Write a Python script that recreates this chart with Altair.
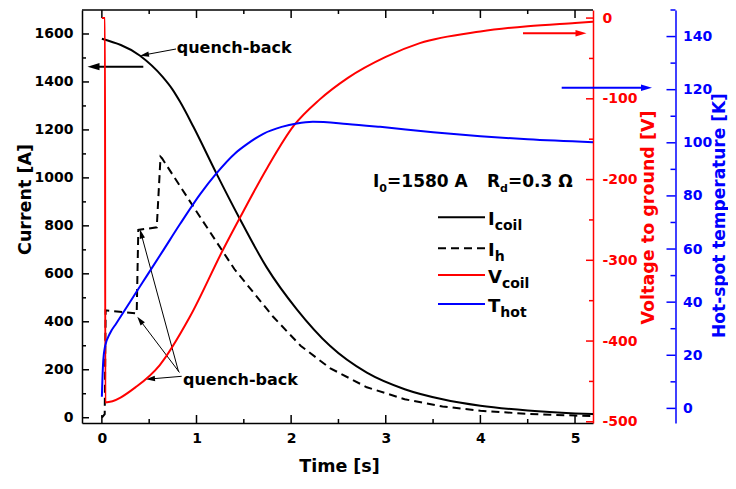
import math
import altair as alt
import pandas as pd

# ---------------- values ----------------
icoil_t = [0.0, 0.40, 0.64, 0.74, 0.825, 0.966, 1.21, 1.45, 1.74, 2.06, 2.41, 2.8, 3.2, 3.6, 4.0, 4.5, 5.0, 5.19]
icoil_a = [1580, 1510, 1422, 1372, 1318, 1214, 1019, 835, 628, 452, 300, 188, 119, 77, 50, 30, 18, 15]

ih_t = [0.0, 0.03, 0.04, 0.368, 0.385, 0.58, 0.62, 0.635, 1.0, 1.4, 1.81, 2.1, 2.41, 2.8, 3.2, 3.6, 4.0, 4.5, 5.0, 5.19]
ih_a = [0, 15, 448, 435, 783, 794, 1088, 1082, 860, 620, 421, 300, 207, 127, 77, 47, 29, 16, 9, 7]

vcoil_t = [0.0, 0.033, 0.036, 0.37, 0.61, 0.93, 1.28, 1.46, 1.75, 2.03, 2.30, 2.6, 3.0, 3.36, 4.0, 4.5, 5.0, 5.19]
vcoil_v = [0, 0, -476, -456, -430, -370, -287, -247, -185, -133, -101, -74, -48, -31, -16.6, -10, -6, -4.5]

thot_t = [0.0, 0.005, 0.015, 0.033, 0.086, 0.15, 0.226, 0.368, 0.473, 0.65, 0.826, 1.037, 1.206,
          1.407, 1.53, 1.706, 1.9, 2.06, 2.23, 2.59, 2.94, 3.5, 4.0, 4.5, 5.19]
thot_k = [4.4, 10, 18.2, 23.2, 28.3, 31.9, 36.1, 44.0, 49.8, 59.6, 69.4, 80.6, 88.3,
          96.0, 99.4, 103.4, 106.0, 107.3, 107.9, 107.1, 106.0, 104.0, 102.5, 101.3, 100.2]

time_ticks = [0, 1, 2, 3, 4, 5]
time_minor = [0.5, 1.5, 2.5, 3.5, 4.5]
current_ticks = [0, 200, 400, 600, 800, 1000, 1200, 1400, 1600]
current_minor = [100, 300, 500, 700, 900, 1100, 1300, 1500]
voltage_ticks = [0, -100, -200, -300, -400, -500]
voltage_minor = [-50, -150, -250, -350, -450]
temp_ticks = [0, 20, 40, 60, 80, 100, 120, 140]
temp_minor = [10, 30, 50, 70, 90, 110, 130, 150]

legend_labels = [("I", "coil"), ("I", "h"), ("V", "coil"), ("T", "hot")]
info_parts = [("I", "0", "=1580 A"), ("R", "d", "=0.3 \u03a9")]
note_text = "quench-back"

# ---------------- layout / style ----------------
W, H = 511, 413
OX, OY = 82, 10          # page position of the plot area (8px margin + padding)
T_DOM = [-0.21, 5.19]
I_DOM = [-22, 1700]
V_DOM = [-501.5, 10]
K_DOM = [-5.5, 150]
BLUE_OFF = 82.5
FONT = "DejaVu Sans"
RED = "#ff0000"
BLUE = "#0000ff"
ARROW = "M0,0L-2,-0.6L-2,0.6Z"


def px_t(x):
    return T_DOM[0] + (x - OX) / W * (T_DOM[1] - T_DOM[0])


def px_i(y):
    return I_DOM[1] - (y - OY) / H * (I_DOM[1] - I_DOM[0])


xs = alt.Scale(domain=T_DOM, nice=False, zero=False)
ys_i = alt.Scale(domain=I_DOM, nice=False, zero=False)
ys_v = alt.Scale(domain=V_DOM, nice=False, zero=False)
ys_k = alt.Scale(domain=K_DOM, nice=False, zero=False)

common_axis = dict(ticks=False, grid=False, labelFont=FONT, labelFontSize=14, labelFontWeight="bold",
                   titleFont=FONT, titleFontWeight="bold", domainWidth=1.5,
                   labelFlush=False, labelOverlap=False, labelExpr="'' + datum.value")

X_AXIS = alt.Axis(values=time_ticks, title="Time [s]", orient="bottom", labelPadding=8,
                  domainColor="black", labelColor="black", titleColor="black", titleFontSize=17.5,
                  titleX=257, titleY=48, titleAlign="center", titleBaseline="alphabetic", **common_axis)
I_AXIS = alt.Axis(values=current_ticks, title="Current [A]", orient="left", labelPadding=9,
                  domainColor="black", labelColor="black", titleColor="black", titleFontSize=17.5,
                  titleX=-57, titleY=189, titleAngle=270, titleAlign="center", titleBaseline="middle",
                  **common_axis)
V_AXIS = alt.Axis(values=voltage_ticks, title="Voltage to ground [V]", orient="right", labelPadding=9,
                  domainColor=RED, labelColor=RED, titleColor=RED, titleFontSize=17.5,
                  titleX=55, titleY=207, titleAngle=270, titleAlign="center", titleBaseline="middle",
                  **common_axis)
K_AXIS = alt.Axis(values=temp_ticks, title="Hot-spot temperature [K]", orient="right", offset=BLUE_OFF,
                  labelPadding=7, domainColor=BLUE, labelColor=BLUE, titleColor=BLUE, titleFontSize=17,
                  titleX=48.5, titleY=205, titleAngle=270, titleAlign="center", titleBaseline="alphabetic",
                  **common_axis)


def X(field):
    return alt.X(f"{field}:Q", scale=xs, axis=X_AXIS)


def YI(field):
    return alt.Y(f"{field}:Q", scale=ys_i, axis=I_AXIS)


def series(t, v):
    return pd.DataFrame({"t": t, "v": v})


def xticks(vals, y1, y2):
    return alt.Chart(pd.DataFrame({"t": vals})).mark_rule(color="black", strokeWidth=1.5).encode(
        x=X("t"), y=alt.value(y1), y2=alt.value(y2))


def yticks(vals, scale, axis, x1, x2, color):
    return alt.Chart(pd.DataFrame({"v": vals})).mark_rule(color=color, strokeWidth=1.5).encode(
        y=alt.Y("v:Q", scale=scale, axis=axis), x=alt.value(x1), x2=alt.value(x2))


# ---------------- current layers ----------------
icoil_line = alt.Chart(series(icoil_t, icoil_a)).mark_line(
    color="black", strokeWidth=2, interpolate="monotone").encode(x=X("t"), y=YI("v"))
ih_line = alt.Chart(series(ih_t, ih_a)).mark_line(
    color="black", strokeWidth=2, strokeDash=[8, 5]).encode(x=X("t"), y=YI("v"))

frame_top = alt.Chart(pd.DataFrame({"a": [0]})).mark_rule(color="black", strokeWidth=1.5).encode(
    x=alt.value(0), x2=alt.value(W), y=alt.value(0))

# arrows (page-pixel geometry converted to data coordinates)
arrow_geo = [
    (143.3, 66.7, 87.5, 66.7, "black", 2, 12),
    (523, 33.3, 586.5, 33.3, RED, 2, 11),
    (561.7, 87.7, 652, 87.7, BLUE, 2, 11),
    (176, 49, 140, 55.7, "black", 1, 9),
    (181.7, 376.3, 146, 379.3, "black", 1, 9),
    (179.5, 372.5, 137.3, 316.7, "black", 1, 9),
    (178.5, 371.5, 140, 229.5, "black", 1, 9),
]
shaft_rows, head_rows = [], []
for x1, y1, x2, y2, c, w, hd in arrow_geo:
    dx, dy = x2 - x1, y2 - y1
    L = math.hypot(dx, dy)
    ex, ey = x2 - dx / L * hd * 0.6, y2 - dy / L * hd * 0.6
    shaft_rows.append({"t1": px_t(x1), "i1": px_i(y1), "t2": px_t(ex), "i2": px_i(ey), "c": c, "w": w})
    head_rows.append({"t": px_t(x2), "i": px_i(y2), "a": math.degrees(math.atan2(dy, dx)) % 360,
                      "s": hd * hd, "c": c})

shafts = alt.Chart(pd.DataFrame(shaft_rows)).mark_rule().encode(
    x=X("t1"), x2="t2:Q", y=YI("i1"), y2="i2:Q",
    color=alt.Color("c:N", scale=None), strokeWidth=alt.StrokeWidth("w:Q", scale=None))
heads = alt.Chart(pd.DataFrame(head_rows)).mark_point(shape=ARROW, filled=True, opacity=1, strokeWidth=0).encode(
    x=X("t"), y=YI("i"),
    angle=alt.Angle("a:Q", scale=None), size=alt.Size("s:Q", scale=None),
    color=alt.Color("c:N", scale=None))

# texts
text_rows = []


def add_text(x, y, s, fs):
    text_rows.append({"t": px_t(x), "i": px_i(y), "s": s, "fs": fs})


add_text(176.7, 53.3, note_text, 16)
add_text(183, 385, note_text, 16)
x = 373
for big, sub, rest in info_parts:
    add_text(x, 187.3, big, 17)
    wb = {"I": 6.3, "R": 13.1}[big]
    add_text(x + wb, 191.5, sub, 11)
    add_text(x + wb + 7.8, 187.3, rest, 17)
    x = 487
leg_y = [217.3, 248.3, 275, 304]
main_w = {"I": 6.7, "V": 13.9, "T": 12.3}
for (big, sub), ly in zip(legend_labels, leg_y):
    add_text(488, ly + 7.7, big, 18)
    add_text(488 + main_w[big], ly + 12.7, sub, 14)

texts = alt.Chart(pd.DataFrame(text_rows)).mark_text(
    align="left", baseline="alphabetic", font=FONT, fontWeight="bold", color="black").encode(
    x=X("t"), y=YI("i"), text="s:N", size=alt.Size("fs:Q", scale=None))

leg_styles = [("black", [1, 0]), ("black", [8, 5]), (RED, [1, 0]), (BLUE, [1, 0])]
leg_lines = []
for (c, dash), ly in zip(leg_styles, leg_y):
    df = pd.DataFrame({"t1": [px_t(438)], "t2": [px_t(485)], "i": [px_i(ly)]})
    leg_lines.append(alt.Chart(df).mark_rule(color=c, strokeWidth=2, strokeDash=dash).encode(
        x=X("t1"), x2="t2:Q", y=YI("i")))

cur = alt.layer(
    icoil_line, ih_line, frame_top,
    xticks(time_ticks, H, H - 8), xticks(time_minor, H, H - 4),
    xticks(time_ticks, 0, 8), xticks(time_minor, 0, 4),
    yticks(current_ticks, ys_i, I_AXIS, 0, 7, "black"), yticks(current_minor, ys_i, I_AXIS, 0, 4, "black"),
    shafts, heads, texts, *leg_lines,
)

# ---------------- voltage layers ----------------
vline = alt.Chart(series(vcoil_t, vcoil_v)).mark_line(
    color=RED, strokeWidth=2, interpolate="monotone").encode(
    x=X("t"), y=alt.Y("v:Q", scale=ys_v, axis=V_AXIS))
volt = alt.layer(vline,
                 yticks(voltage_ticks, ys_v, V_AXIS, W, W - 7, RED),
                 yticks(voltage_minor, ys_v, V_AXIS, W, W - 4, RED))

# ---------------- temperature layers ----------------
kline = alt.Chart(series(thot_t, thot_k)).mark_line(
    color=BLUE, strokeWidth=2, interpolate="monotone").encode(
    x=X("t"), y=alt.Y("v:Q", scale=ys_k, axis=K_AXIS))
temp = alt.layer(kline,
                 yticks(temp_ticks, ys_k, K_AXIS, W + BLUE_OFF, W + BLUE_OFF - 9, BLUE),
                 yticks(temp_minor, ys_k, K_AXIS, W + BLUE_OFF, W + BLUE_OFF - 5, BLUE))

# svg width kept at 720 px (= page width minus margins) so it is not shrunk to fit
chart = alt.layer(cur, volt, temp).resolve_scale(y="independent").properties(
    width=W, height=H,
    padding={"left": 74, "top": 2, "right": 135, "bottom": 52},
    autosize=alt.AutoSizeParams(type="none"),
).configure_view(stroke=None).configure_axis(grid=False)

chart.save("out.html", embed_options={"renderer": "svg", "actions": False})
